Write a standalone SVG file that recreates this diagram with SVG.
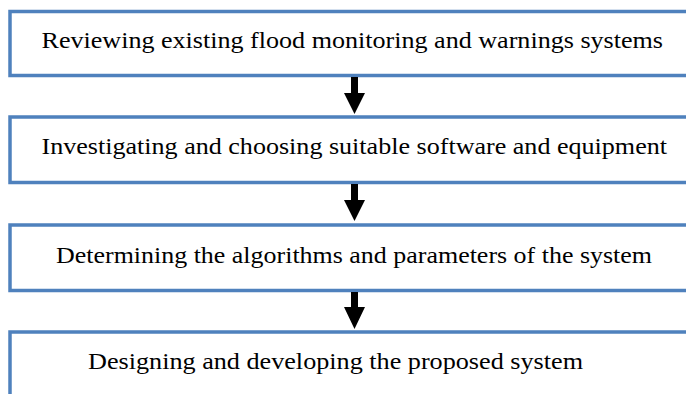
<svg xmlns="http://www.w3.org/2000/svg" width="686" height="394" viewBox="0 0 686 394">
<defs>
<style>
.box{fill:#fff;stroke:#4f81bd;stroke-width:3.5}
.t{font-family:"Liberation Serif","Times New Roman",serif;font-size:23px;fill:#000}
.ar{fill:#000}
</style>
</defs>
<rect width="686" height="394" fill="#fff"/>
<g id="n1"><rect class="box" x="10" y="11.5" width="690" height="64"/><text class="t" x="41.5" y="47.5" textLength="621.5" lengthAdjust="spacingAndGlyphs">Reviewing existing flood monitoring and warnings systems</text></g>
<g id="n2"><rect class="box" x="10" y="117" width="690" height="65.5"/><text class="t" x="41.5" y="154" textLength="625.5" lengthAdjust="spacingAndGlyphs">Investigating and choosing suitable software and equipment</text></g>
<g id="n3"><rect class="box" x="10" y="225" width="690" height="65.5"/><text class="t" x="56" y="263" textLength="596" lengthAdjust="spacingAndGlyphs">Determining the algorithms and parameters of the system</text></g>
<g id="n4"><rect class="box" x="10" y="332" width="690" height="80"/><text class="t" x="88" y="369" textLength="495" lengthAdjust="spacingAndGlyphs">Designing and developing the proposed system</text></g>
<g id="connectors">
<path class="ar" d="M351,77 H358 V93 H365 L354.5,114 L344,93 H351 Z"/>
<path class="ar" d="M351,184 H358 V200 H365 L354.5,221 L344,200 H351 Z"/>
<path class="ar" d="M351,292 H358 V307 H365 L354.5,329 L344,307 H351 Z"/>
</g>
</svg>
